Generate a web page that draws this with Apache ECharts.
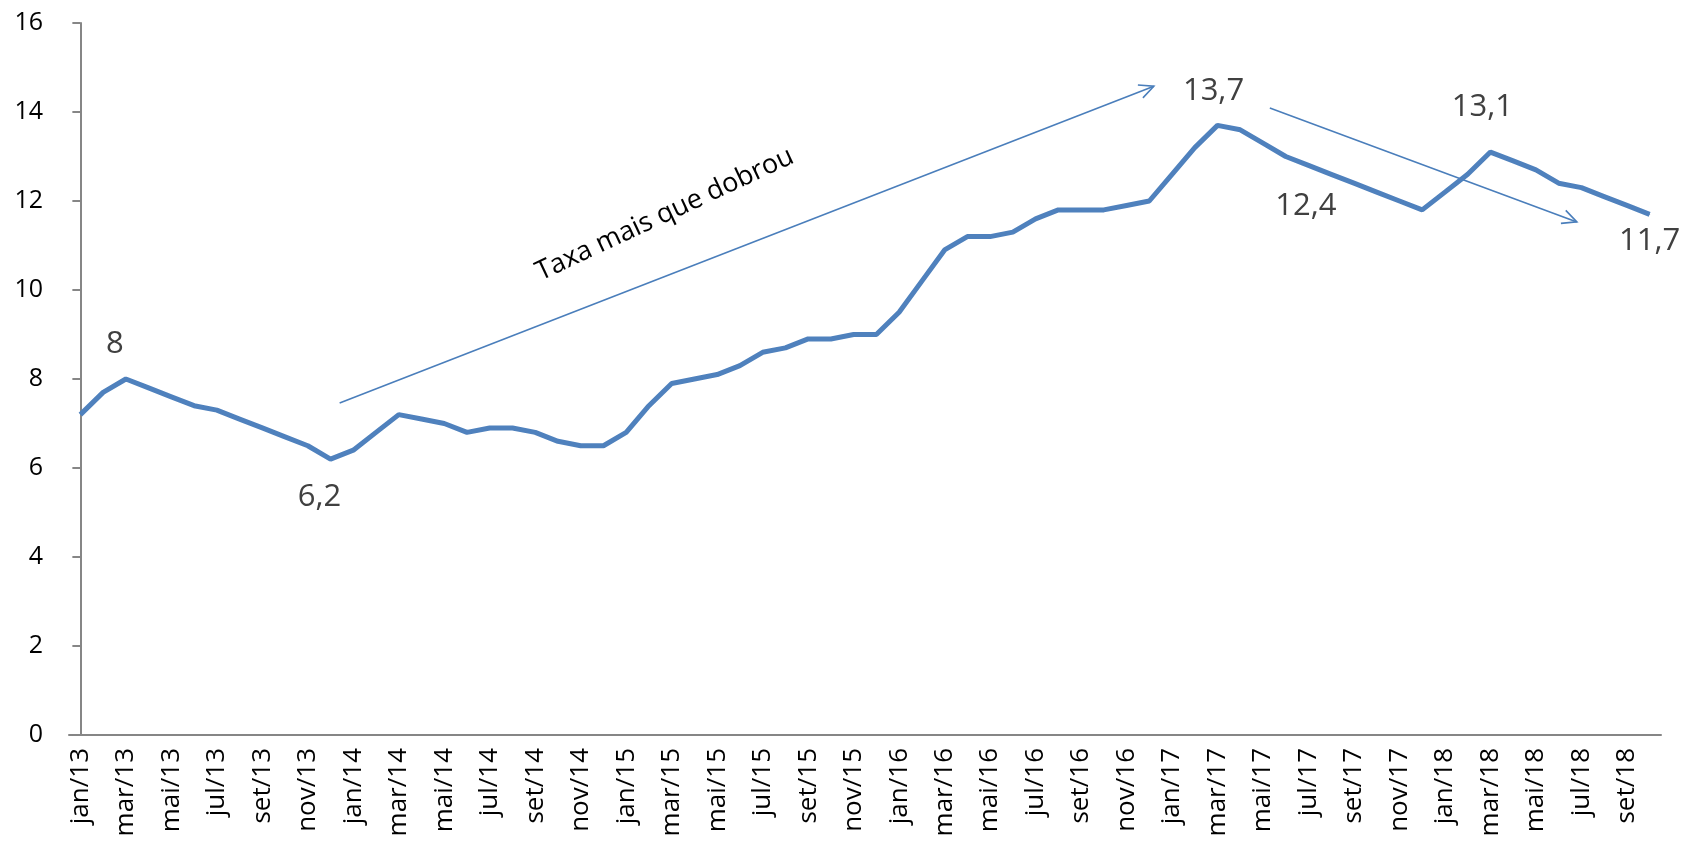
<!DOCTYPE html>
<html lang="pt">
<head>
    <meta charset="UTF-8">
    <title>Taxa de desocupação</title>
    <script src="https://cdn.jsdelivr.net/npm/echarts@6/dist/echarts.min.js"></script>
    <style>html, body { margin: 0; padding: 0; background: #fff; }</style>
</head>
<body>
    <div id="chart" style="width: 1686px; height: 841px;"></div>
    <script>
        // meses e anos do eixo x (jan/13 ... out/18)
        const meses = ['jan', 'fev', 'mar', 'abr', 'mai', 'jun', 'jul', 'ago', 'set', 'out', 'nov', 'dez'];
        const anos = ['13', '14', '15', '16', '17', '18'];

        // taxa de desocupação (%), por ano
        const taxa2013 = [7.2, 7.7, 8.0, 7.8, 7.6, 7.4, 7.3, 7.1, 6.9, 6.7, 6.5, 6.2];
        const taxa2014 = [6.4, 6.8, 7.2, 7.1, 7.0, 6.8, 6.9, 6.9, 6.8, 6.6, 6.5, 6.5];
        const taxa2015 = [6.8, 7.4, 7.9, 8.0, 8.1, 8.3, 8.6, 8.7, 8.9, 8.9, 9.0, 9.0];
        const taxa2016 = [9.5, 10.2, 10.9, 11.2, 11.2, 11.3, 11.6, 11.8, 11.8, 11.8, 11.9, 12.0];
        const taxa2017 = [12.6, 13.2, 13.7, 13.6, 13.3, 13.0, 12.8, 12.6, 12.4, 12.2, 12.0, 11.8];
        const taxa2018 = [12.2, 12.6, 13.1, 12.9, 12.7, 12.4, 12.3, 12.1, 11.9, 11.7];

        // valores destacados no gráfico
        const destaques = ['mar/13', 'dez/13', 'mar/17', 'set/17', 'mar/18', 'out/18'];

        const yTicks = { min: 0, max: 16, interval: 2 };

        const categorias = [];
        anos.forEach(a => meses.forEach(m => categorias.push(m + '/' + a)));
        const taxa = [].concat(taxa2013, taxa2014, taxa2015, taxa2016, taxa2017, taxa2018);
        categorias.length = taxa.length;

        // deslocamento dos rótulos em relação ao ponto (px)
        const rotuloOffset = {
            'mar/13': [-11, -35],
            'dez/13': [-11, 38],
            'mar/17': [-4, -34],
            'set/17': [-48, 23],
            'mar/18': [-8, -45],
            'out/18': [0, 27]
        };

        const azul = '#4F81BD';
        const fmt = v => String(v).replace('.', ',');

        const serieDados = taxa.map((v, i) => {
            const c = categorias[i];
            if (destaques.indexOf(c) < 0) return v;
            return {
                value: v,
                label: { show: true, position: 'inside', offset: rotuloOffset[c] }
            };
        });

        const chart = echarts.init(document.getElementById('chart'));
        const option = {
            animation: false,
            grid: { left: 69, right: 25, top: 23, bottom: 106 },
            xAxis: [{
                type: 'category',
                data: categorias,
                boundaryGap: true,
                axisLine: { lineStyle: { color: '#868686', width: 2 } },
                axisTick: { interval: 1, length: 8, lineStyle: { color: '#868686', width: 2 } },
                axisLabel: {
                    interval: 1, rotate: 90, margin: 13,
                    fontFamily: 'Open Sans', fontSize: 26, color: '#000'
                }
            }, {
                // eixo auxiliar para posicionar as anotações
                type: 'value', min: -0.5, max: taxa.length - 0.5, show: false
            }],
            yAxis: {
                type: 'value',
                min: yTicks.min, max: yTicks.max, interval: yTicks.interval,
                splitLine: { show: false },
                axisLine: { show: true, lineStyle: { color: '#868686', width: 2 } },
                axisTick: { show: true, length: 8, lineStyle: { color: '#868686', width: 2 } },
                axisLabel: { margin: 26, fontFamily: 'Open Sans', fontSize: 25, color: '#000' }
            },
            series: [{
                type: 'line',
                data: serieDados,
                symbol: 'circle',
                symbolSize: 1,
                showSymbol: true,
                itemStyle: { color: azul },
                lineStyle: { color: azul, width: 5 },
                label: {
                    show: false,
                    formatter: p => fmt(p.value),
                    fontFamily: 'Open Sans', fontSize: 31, color: '#404040'
                }
            }]
        };
        chart.setOption(option);

        // anotações: setas e texto (em coordenadas do gráfico)
        const setas = [
            [[11.4, 7.46], [47.2, 14.58]],
            [[52.3, 14.09], [65.8, 11.53]]
        ];
        const texto = { pos: [25.7, 11.7], angulo: 25, conteudo: 'Taxa mais que dobrou' };

        const px = p => chart.convertToPixel({ xAxisIndex: 1, yAxisIndex: 0 }, p);
        const graficos = [];
        const corSeta = '#4A7EBB';
        setas.forEach(s => {
            const a = px(s[0]), b = px(s[1]);
            const ang = Math.atan2(b[1] - a[1], b[0] - a[0]);
            const L = 16, abre = Math.PI / 7;
            const p1 = [b[0] - L * Math.cos(ang - abre), b[1] - L * Math.sin(ang - abre)];
            const p2 = [b[0] - L * Math.cos(ang + abre), b[1] - L * Math.sin(ang + abre)];
            graficos.push({
                type: 'line', shape: { x1: a[0], y1: a[1], x2: b[0], y2: b[1] },
                style: { stroke: corSeta, lineWidth: 1.6 }
            });
            graficos.push({
                type: 'polyline', shape: { points: [p1, b, p2] },
                style: { stroke: corSeta, lineWidth: 1.6, fill: null }
            });
        });
        const t = px(texto.pos);
        graficos.push({
            type: 'text', x: t[0], y: t[1],
            rotation: texto.angulo * Math.PI / 180,
            style: {
                text: texto.conteudo, fontFamily: 'Open Sans', fontSize: 27,
                fill: '#000', align: 'center', verticalAlign: 'middle'
            }
        });
        chart.setOption({ graphic: graficos });
    </script>
</body>
</html>
